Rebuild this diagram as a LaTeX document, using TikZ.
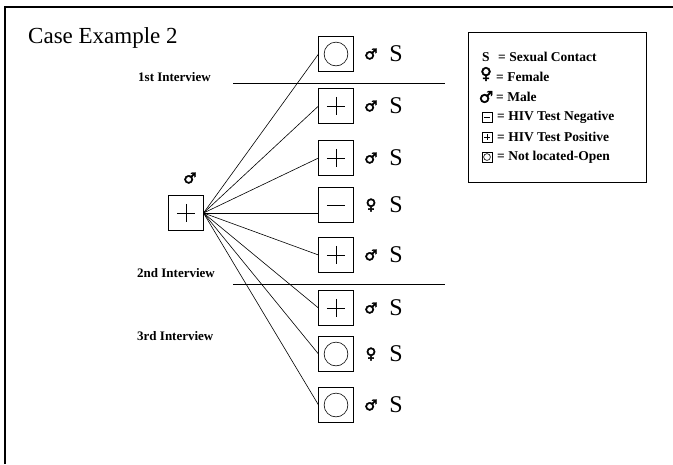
\documentclass[tikz,border=0pt]{standalone}
\usepackage{fontspec}
\setmainfont{Liberation Serif}
\newfontfamily\symfont[FakeBold=3]{DejaVu Sans Bold}
\begin{document}
\begin{tikzpicture}[x=1pt,y=-1pt,
  cbox/.style={draw, line width=0.7pt, minimum size=#1, inner sep=0pt, outer sep=0pt},
  boxplus/.style={cbox=#1, path picture={\draw[line width=0.6pt] (path picture bounding box.center) ++(-0.26*#1,0) -- ++(0.52*#1,0) (path picture bounding box.center) ++(0,-0.26*#1) -- ++(0,0.52*#1);}},
  boxminus/.style={cbox=#1, path picture={\draw[line width=0.6pt] (path picture bounding box.center) ++(-0.26*#1,0) -- ++(0.52*#1,0);}},
  boxcirc/.style={cbox=#1, path picture={\draw[line width=0.6pt] (path picture bounding box.center) circle[radius=0.34*#1];}},
  gsym/.style={font=\symfont\fontsize{15}{15}\selectfont, inner sep=0pt},
  lgsym/.style={font=\symfont\fontsize{16}{16}\selectfont, inner sep=0pt},
  bigS/.style={font=\fontsize{24}{24}\selectfont, inner sep=0pt},
  ivlabel/.style={font=\bfseries\fontsize{13}{13}\selectfont, anchor=west, inner sep=0pt},
  legtext/.style={font=\bfseries\fontsize{13.5}{13.5}\selectfont, anchor=west, inner sep=0pt},
  conn/.style={line width=0.6pt}
]
\useasboundingbox (0,0) rectangle (673,464);
\draw[line width=2pt] (5,464) -- (5,7) -- (673,7);

\node[anchor=west, inner sep=0pt, font=\fontsize{23}{23}\selectfont] (title) at (28,38) {Case Example 2};

% interview labels and lines
\node[ivlabel] (i1) at (138,77) {1st Interview};
\node[ivlabel] (i2) at (137,273) {2nd Interview};
\node[ivlabel] (i3) at (137,336) {3rd Interview};
\draw[line width=0.7pt] (233,83) -- (445,83);
\draw[line width=0.7pt] (233,284) -- (445,284);

% central case
\node[boxplus=35] (c) at (186,213) {};
\node[gsym] (cm) at (190,178) {♂};

% contacts
\node[boxcirc=35]  (b1) at (336,54) {};
\node[boxplus=35]  (b2) at (336,106) {};
\node[boxplus=35]  (b3) at (336,158) {};
\node[boxminus=35] (b4) at (336,205) {};
\node[boxplus=35]  (b5) at (336,255) {};
\node[boxplus=35]  (b6) at (336,308) {};
\node[boxcirc=35]  (b7) at (336,354) {};
\node[boxcirc=35]  (b8) at (336,405) {};

\foreach \b/\g in {b1/♂,b2/♂,b3/♂,b4/♀,b5/♂,b6/♂,b7/♀,b8/♂}{
  \node[gsym] (\b g) at ([xshift=35pt]\b.center) {\g};
  \node[bigS] (\b s) at ([xshift=60pt]\b.center) {S};
}

\foreach \b in {b1,b2,b3,b5,b6,b7,b8}{
  \draw[conn] (c.east) -- (\b.west);
}
\draw[conn] (c.east) -- (c.east -| b4.west);

% legend
\draw[line width=0.7pt] (468,32) rectangle (646,182);
\node[legtext, anchor=center] (ls) at (486,57) {S};
\node[legtext] (lst) at (498,57) {= Sexual Contact};
\node[lgsym] (lf) at (486,74) {♀};
\node[legtext] (lft) at (496,77) {= Female};
\node[lgsym] (lm) at (486,97) {♂};
\node[legtext] (lmt) at (496,97) {= Male};
\node[boxminus=10] (ln) at (487,117) {};
\node[legtext] (lnt) at (497,117) {= HIV Test Negative};
\node[boxplus=10] (lp) at (487,137) {};
\node[legtext] (lpt) at (497,137) {= HIV Test Positive};
\node[boxcirc=10] (lo) at (487,157) {};
\node[legtext] (lot) at (497,157) {= Not located-Open};
\end{tikzpicture}
\end{document}
